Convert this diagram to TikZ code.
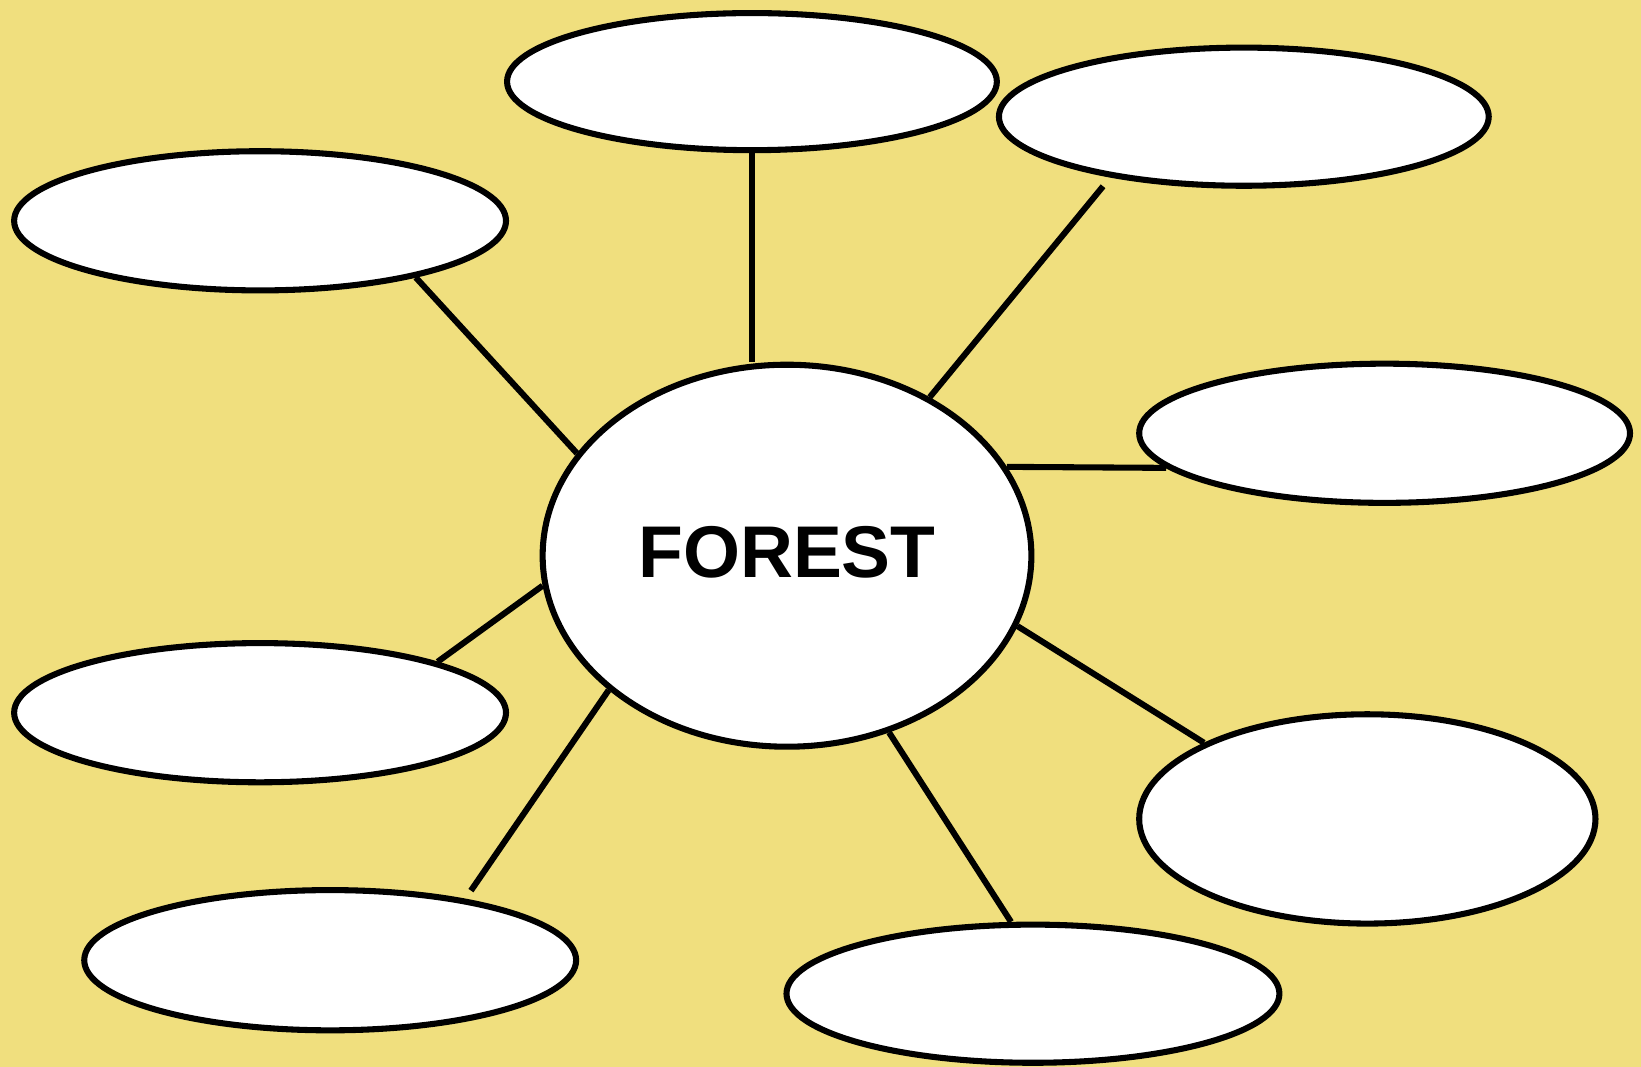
\documentclass[tikz,border=0pt]{standalone}
\usepackage{fontspec}
\setmainfont{Liberation Sans}
\usetikzlibrary{shapes}

\definecolor{bgcol}{rgb}{0.94,0.875,0.496}

\tikzset{
  bubble/.style={ellipse, draw, fill=white, inner sep=0pt,
    minimum width=469bp, minimum height=133bp},
  hub/.style={bubble, minimum width=467bp, minimum height=365bp,
    text depth=8bp, font=\fontsize{70bp}{80bp}\selectfont\bfseries},
}

\begin{document}
\begin{tikzpicture}[line join=bevel, line width=5.8bp]
\pgfsetcolor{black}

% Background
\fill [bgcol] (0bp,0bp) rectangle (1568bp,1019.5bp);
\useasboundingbox (0bp,0bp) rectangle (1568bp,1019.5bp);

% Node: C
\node [hub] (C) at (752bp,488.5bp) {FOREST};

% Node: T
\node [bubble, minimum width=468bp, minimum height=131bp] (T) at (718.5bp,941.5bp) {};

% Node: TR
\node [bubble, minimum width=468bp, minimum height=132bp] (TR) at (1188.5bp,908bp) {};

% Node: LT
\node [bubble, minimum width=470bp] (LT) at (248.5bp,808.5bp) {};

% Node: RM
\node [bubble] (RM) at (1323bp,605.5bp) {};

% Node: LB
\node [bubble, minimum width=470bp] (LB) at (248.5bp,338.5bp) {};

% Node: RB
\node [bubble, minimum width=436bp, minimum height=200bp] (RB) at (1306.5bp,237bp) {};

% Node: BL
\node [bubble, minimum width=470bp, minimum height=134bp] (BL) at (315.5bp,102bp) {};

% Node: B
\node [bubble, minimum width=471bp, minimum height=132bp] (B) at (987bp,70bp) {};

% Free ends
\coordinate (TRend) at (1054bp,841.5bp);
\coordinate (BLend) at (450bp,168.5bp);

% Edge: C -- T
\draw (T.south) -- (T.south |- C.north);

% Edge: C -- TR
\draw (C.48.8) -- (TRend);

% Edge: C -- LT
\draw (C.154.7) -- (LT.340.1);

% Edge: C -- RM
\draw (C.22.2) -- (RM.189.3);

% Edge: C -- RB
\draw (C.343.9) -- (RB.155.75);

% Edge: C -- B
\draw (C.300.1) -- (B.107.3);

% Edge: C -- BL
\draw (C.217.7) -- (BLend);

% Edge: C -- LB
\draw (C.187.5) -- (LB.16.1);

\end{tikzpicture}
\end{document}
